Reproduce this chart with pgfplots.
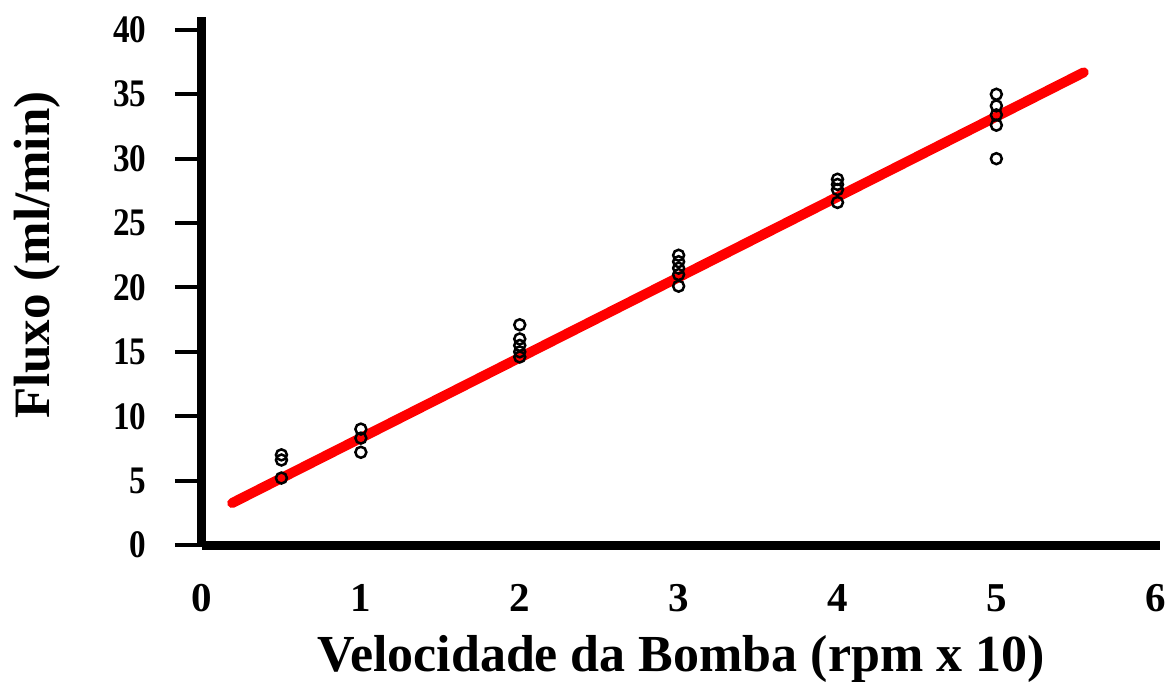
\documentclass[border=0pt]{standalone}
\usepackage{pgfplots}
\pgfplotsset{compat=1.18}
\usepackage{fontspec}
\setmainfont{Liberation Serif}
\begin{document}
\begin{tikzpicture}
\begin{axis}[
  scale only axis,
  width=958pt, height=528pt,
  xmin=0, xmax=6.03, ymin=0, ymax=41,
  axis lines=left,
  axis line style={line width=9pt, -},
  xtick={0,1,2,3,4,5,6},
  ytick={0,5,10,15,20,25,30,35,40},
  tick align=outside,
  x tick style={draw=none},
  y tick style={line width=4pt, black},
  major tick length=27pt,
  xticklabel={\pgfmathparse{int(round(\tick))}\pgfmathresult},
  yticklabel={\scalebox{0.85}[1]{\pgfmathparse{int(round(\tick))}\pgfmathresult}},
  xticklabel style={font=\fontsize{41}{48}\selectfont\bfseries, anchor=base, yshift=-39pt},
  yticklabel style={font=\fontsize{39}{44}\selectfont\bfseries, anchor=east, xshift=-25pt},
  xlabel={Velocidade da Bomba (rpm x 10)},
  ylabel={Fluxo (ml/min)},
  xlabel style={font=\fontsize{52}{60}\selectfont\bfseries, at={(axis description cs:0.5,-0.2405)}, anchor=base},
  ylabel style={font=\fontsize{51}{60}\selectfont\bfseries, at={(axis description cs:-0.172,0.549)}, anchor=center, rotate=0},
  clip=false,
]
\addplot[only marks, mark=o, mark size=5.5pt, mark options={line width=2.5pt, black}] table {
x y
0.5 7.0
0.5 6.6
0.5 5.2
1 9.0
1 8.3
1 7.2
2 17.1
2 16.0
2 15.5
2 15.0
2 14.6
3 22.5
3 22.0
3 21.5
3 21.0
3 20.1
4 28.4
4 28.0
4 27.6
4 26.6
5 35.0
5 34.1
5 33.4
5 32.6
5 30.0
};
\addplot[red, line width=10pt, line cap=round] coordinates {(0.19,3.26) (5.55,36.7)};
\end{axis}
\pgfresetboundingbox
\path[use as bounding box] (-202pt,-136pt) rectangle (964pt,545pt);
\end{tikzpicture}
\end{document}
